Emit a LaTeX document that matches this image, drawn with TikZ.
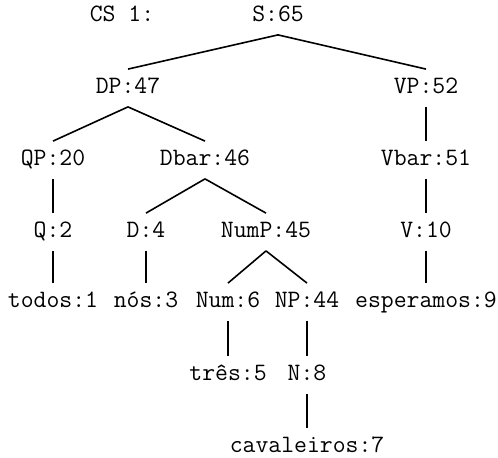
\documentclass[tikz,border=0pt]{standalone}
\usepackage{fontspec}

\begin{document}
\begin{tikzpicture}[
          x = 0.5pt, y = -0.5pt,
  lbl/.style = {inner sep=0pt, minimum height=18.5pt,
               font=\ttfamily\fontsize{12.5pt}{14pt}\selectfont,
               text height=0.7em, text depth=0.1em},
branch/.style = {line width=0.8pt}
                        ]
\useasboundingbox (0,0) rectangle (498,458);
\node (cs) [lbl] at (122,16) {CS 1:};
\node (s) [lbl] at (278,16) {S:65};
\node (dp) [lbl] at (128,88) {DP:47};
\node (vp) [lbl] at (426,88) {VP:52};
\node (qp) [lbl] at (53,160) {QP:20};
\node (dbar) [lbl] at (205,160) {Dbar:46};
\node (vbar) [lbl] at (426,160) {Vbar:51};
\node (q) [lbl] at (53,232) {Q:2};
\node (d) [lbl] at (146,232) {D:4};
\node (nump) [lbl] at (266,232) {NumP:45};
\node (v) [lbl] at (426,232) {V:10};
\node (todos) [lbl] at (53,302) {todos:1};
\node (nos) [lbl] at (146,302) {nós:3};
\node (num) [lbl] at (228,302) {Num:6};
\node (np) [lbl] at (307,302) {NP:44};
\node (esperamos) [lbl] at (426,302) {esperamos:9};
\node (tres) [lbl] at (228,375) {três:5};
\node (n) [lbl] at (307,375) {N:8};
\node (cavaleiros) [lbl] at (307,447) {cavaleiros:7};
\draw[branch] (s.south) -- (dp.north);
\draw[branch] (s.south) -- (vp.north);
\draw[branch] (dp.south) -- (qp.north);
\draw[branch] (dp.south) -- (dbar.north);
\draw[branch] (vp.south) -- (vbar.north);
\draw[branch] (qp.south) -- (q.north);
\draw[branch] (dbar.south) -- (d.north);
\draw[branch] (dbar.south) -- (nump.north);
\draw[branch] (vbar.south) -- (v.north);
\draw[branch] (q.south) -- (todos.north);
\draw[branch] (d.south) -- (nos.north);
\draw[branch] (nump.south) -- (num.north);
\draw[branch] (nump.south) -- (np.north);
\draw[branch] (v.south) -- (esperamos.north);
\draw[branch] (num.south) -- (tres.north);
\draw[branch] (np.south) -- (n.north);
\draw[branch] (n.south) -- (cavaleiros.north);
\end{tikzpicture}
\end{document}
